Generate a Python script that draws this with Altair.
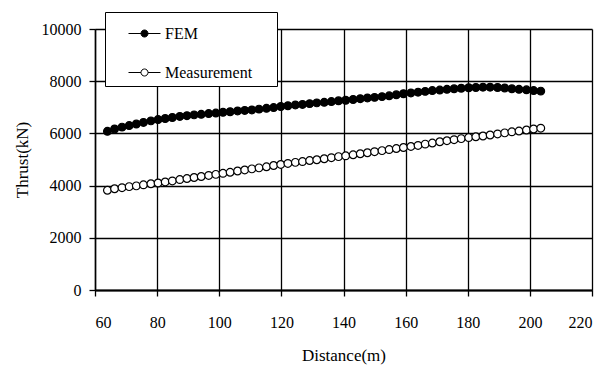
import altair as alt
import pandas as pd

distance = [64.0, 66.3, 68.7, 71.0, 73.3, 75.6, 78.0, 80.3, 82.6, 84.9, 87.3, 89.6, 91.9, 94.2, 96.6, 98.9,
            101.2, 103.5, 105.9, 108.2, 110.5, 112.8, 115.2, 117.5, 119.8, 122.1, 124.5, 126.8, 129.1, 131.4,
            133.8, 136.1, 138.4, 140.7, 143.1, 145.4, 147.7, 150.0, 152.4, 154.7, 157.0, 159.3, 161.7, 164.0,
            166.3, 168.6, 171.0, 173.3, 175.6, 177.9, 180.3, 182.6, 184.9, 187.2, 189.6, 191.9, 194.2, 196.5,
            198.9, 201.2, 203.5]

fem = [6080, 6170, 6240, 6300, 6360, 6420, 6480, 6530, 6570, 6610, 6650, 6680, 6710, 6730, 6760, 6780,
       6810, 6830, 6860, 6880, 6900, 6930, 6960, 6990, 7030, 7060, 7090, 7110, 7140, 7170,
       7190, 7220, 7250, 7270, 7300, 7330, 7360, 7380, 7410, 7440, 7480, 7520, 7550, 7580,
       7610, 7640, 7660, 7690, 7710, 7730, 7750, 7760, 7770, 7770, 7760, 7740, 7710, 7690,
       7670, 7640, 7620]

measurement = [3820, 3880, 3920, 3960, 3990, 4030, 4070, 4100, 4140, 4180, 4230, 4270, 4310, 4350, 4390, 4430,
               4470, 4510, 4560, 4600, 4640, 4680, 4720, 4770, 4810, 4850, 4890, 4920, 4960, 4990,
               5030, 5070, 5110, 5140, 5180, 5220, 5260, 5300, 5340, 5380, 5420, 5460, 5500, 5540,
               5590, 5630, 5680, 5720, 5760, 5800, 5840, 5870, 5900, 5940, 5980, 6020, 6060, 6090,
               6130, 6170, 6200]

series_names = ["FEM", "Measurement"]
x_ticks = [60, 80, 100, 120, 140, 160, 180, 200, 220]
y_ticks = [0, 2000, 4000, 6000, 8000, 10000]

n = len(distance)
df = pd.DataFrame({
    "Distance": distance + distance,
    "Thrust": fem + measurement,
    "Series": [series_names[0]] * n + [series_names[1]] * n,
})

FONT = "Liberation Serif"

x_enc = alt.X("Distance:Q",
              scale=alt.Scale(domain=[60, 220], nice=False, zero=False),
              axis=alt.Axis(values=x_ticks, title="Distance(m)", format="d",
                            labelFont=FONT, domainWidth=2, labelPadding=18, titlePadding=17))
y_enc = alt.Y("Thrust:Q",
              scale=alt.Scale(domain=[0, 10000], nice=False),
              axis=alt.Axis(values=y_ticks, title="Thrust(kN)", format="d",
                            labelFont=FONT, domainWidth=1.5, labelPadding=8, titlePadding=10))

lines = alt.Chart(df).mark_line(color="black", strokeWidth=1).encode(
    x=x_enc, y=y_enc, detail="Series:N")

symbol_path = ("M-1,0L-0.22,0M0.22,0L1,0M-0.22,0A0.22,0.22 0 1,0 0.22,0"
               "A0.22,0.22 0 1,0 -0.22,0Z")

points = alt.Chart(df).mark_point(filled=True, shape="circle", size=60, stroke="black",
                                  strokeWidth=1.2, opacity=1).encode(
    x=x_enc, y=y_enc,
    fill=alt.Fill("Series:N",
                  scale=alt.Scale(domain=series_names, range=["black", "white"]),
                  legend=alt.Legend(title="M", titleOrient="right", titleColor="white",
                                    titleOpacity=0, titleFont=FONT, titleFontSize=16,
                                    titlePadding=4,
                                    orient="none", legendX=10, legendY=-17,
                                    symbolType=symbol_path, symbolSize=1024,
                                    symbolStrokeColor="black", symbolStrokeWidth=1,
                                    symbolOpacity=1, symbolOffset=18,
                                    labelOffset=4,
                                    fillColor="white", strokeColor="black",
                                    padding=5, rowPadding=14)))

chart = (lines + points).properties(
    width=497, height=261,
    autosize=alt.AutoSizeParams(type="none"),
    padding={"left": 87, "top": 21, "right": 5, "bottom": 77},
).configure_view(
    strokeWidth=0
).configure_axis(
    grid=True, gridColor="black", gridWidth=1.3, gridOpacity=1,
    domainColor="black", tickColor="black", tickSize=6, tickWidth=1.3,
    labelFont=FONT, labelFontSize=16, labelColor="black",
    titleFont=FONT, titleFontSize=17, titleFontWeight="normal", titleColor="black",
).configure_legend(
    labelFont=FONT, labelFontSize=16, labelColor="black",
)

chart.save("out.html", embed_options={"renderer": "svg", "actions": False})
